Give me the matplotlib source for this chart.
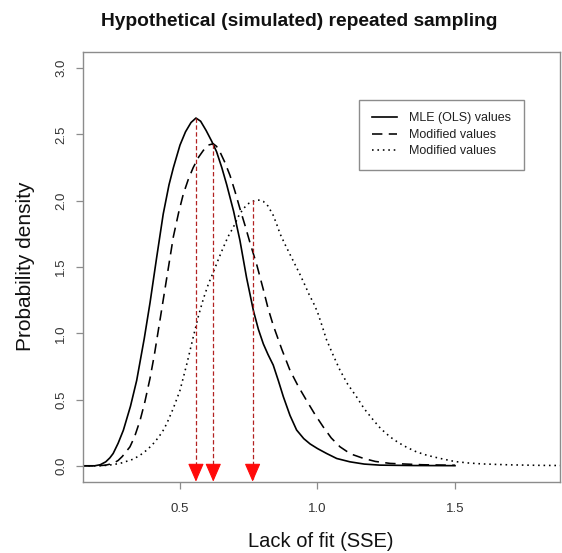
import matplotlib
matplotlib.use("Agg")
import matplotlib.pyplot as plt

plt.rcParams['font.family'] = ['Liberation Sans', 'DejaVu Sans']

# ---- data ----
mle_x = [0.147, 0.19, 0.21, 0.23, 0.245, 0.257, 0.275, 0.294, 0.32, 0.3425, 0.37, 0.391,
         0.415, 0.439, 0.46, 0.476, 0.50, 0.52, 0.54, 0.558, 0.575, 0.595, 0.615, 0.633,
         0.652, 0.670, 0.695, 0.718, 0.742, 0.767, 0.785, 0.803, 0.82, 0.839, 0.858, 0.876,
         0.90, 0.924, 0.95, 0.973, 1.0, 1.033, 1.07, 1.118, 1.17, 1.227, 1.35, 1.5]
mle_y = [0.0, 0.0, 0.008, 0.03, 0.06, 0.093, 0.17, 0.268, 0.45, 0.644, 0.96, 1.23,
         1.57, 1.90, 2.12, 2.25, 2.42, 2.52, 2.59, 2.624, 2.60, 2.53, 2.45, 2.37,
         2.25, 2.12, 1.92, 1.70, 1.42, 1.17, 1.03, 0.92, 0.84, 0.76, 0.64, 0.52,
         0.38, 0.27, 0.205, 0.165, 0.13, 0.093, 0.055, 0.03, 0.013, 0.005, 0.002, 0.001]

mod1_x = [0.147, 0.20, 0.23, 0.257, 0.275, 0.29, 0.318, 0.335, 0.355, 0.372, 0.391, 0.407,
          0.421, 0.435, 0.452, 0.476, 0.495, 0.512, 0.53, 0.548, 0.568, 0.585, 0.603, 0.621,
          0.633, 0.645, 0.663, 0.682, 0.70, 0.718, 0.737, 0.755, 0.78, 0.803, 0.82, 0.839,
          0.87, 0.9, 0.93, 0.961, 0.99, 1.021, 1.05, 1.082, 1.12, 1.167, 1.21, 1.264, 1.38, 1.5]
mod1_y = [0.0, 0.0, 0.005, 0.018, 0.04, 0.07, 0.143, 0.22, 0.344, 0.48, 0.66, 0.84,
          1.02, 1.20, 1.42, 1.73, 1.91, 2.05, 2.16, 2.25, 2.33, 2.38, 2.42, 2.43,
          2.41, 2.37, 2.29, 2.19, 2.07, 1.94, 1.81, 1.68, 1.51, 1.33, 1.19, 1.06,
          0.88, 0.72, 0.60, 0.49, 0.39, 0.293, 0.21, 0.143, 0.09, 0.056, 0.033, 0.018, 0.008, 0.004]

mod2_x = [0.147, 0.20, 0.24, 0.282, 0.33, 0.355, 0.379, 0.40, 0.42, 0.437, 0.452, 0.475,
          0.5, 0.525, 0.548, 0.567, 0.585, 0.603, 0.621, 0.64, 0.657, 0.675, 0.694, 0.712,
          0.73, 0.75, 0.773, 0.79, 0.803, 0.82, 0.839, 0.852, 0.864, 0.882, 0.9, 0.918,
          0.936, 0.955, 0.97, 0.985, 1.0, 1.016, 1.033, 1.058, 1.082, 1.11, 1.142, 1.17,
          1.203, 1.23, 1.264, 1.294, 1.324, 1.36, 1.397, 1.445, 1.5, 1.55, 1.6, 1.7, 1.82, 1.9]
mod2_y = [0.0, 0.0, 0.004, 0.018, 0.05, 0.08, 0.118, 0.16, 0.21, 0.26, 0.319, 0.43,
          0.569, 0.77, 0.97, 1.13, 1.26, 1.37, 1.46, 1.56, 1.645, 1.73, 1.80, 1.88,
          1.94, 1.98, 2.003, 2.005, 1.995, 1.96, 1.89, 1.82, 1.75, 1.67, 1.595, 1.52,
          1.445, 1.36, 1.29, 1.23, 1.16, 1.06, 0.95, 0.83, 0.72, 0.615, 0.52, 0.43,
          0.345, 0.28, 0.218, 0.175, 0.14, 0.105, 0.08, 0.056, 0.032, 0.021, 0.014, 0.007, 0.003, 0.002]

arrow_x = [0.558, 0.621, 0.764]
arrow_top = [2.624, 2.43, 2.003]

series_labels = ["MLE (OLS) values", "Modified values", "Modified values"]
x_ticks = [0.5, 1.0, 1.5]
y_ticks = [0.0, 0.5, 1.0, 1.5, 2.0, 2.5, 3.0]

# ---- figure ----
W, H = 562, 553
fig = plt.figure(figsize=(W / 100, H / 100), dpi=100)
L, R, T, B = 82.7, 560.0, 52.3, 481.7
ax = fig.add_axes([L / W, 1 - B / H, (R - L) / W, (B - T) / H])

ax.plot(mle_x, mle_y, color='black', lw=1.2, linestyle='-', label=series_labels[0])
ax.plot(mod1_x, mod1_y, color='black', lw=1.15, dashes=(6.5, 4), label=series_labels[1])
ax.plot(mod2_x, mod2_y, color='black', lw=1.15, dashes=(1, 2.4), label=series_labels[2])

ymin, ymax = -0.12, 3.12
for xa, ya in zip(arrow_x, arrow_top):
    ax.plot([xa, xa], [ya, ymin + 0.02], color='#b22222', lw=0.9, dashes=(3.5, 2))
    ax.annotate('', xy=(xa, ymin), xytext=(xa, 0.0),
                arrowprops=dict(arrowstyle='-|>,head_length=1.15,head_width=0.5',
                                color='#ff0a0a', lw=0.8, shrinkA=0, shrinkB=0))

ax.set_xlim(0.1462, 1.8818)
ax.set_ylim(ymin, ymax)
ax.set_xticks(x_ticks)
ax.set_xticklabels([f"{v:.1f}" for v in x_ticks])
ax.set_yticks(y_ticks)
ax.set_yticklabels([f"{v:.1f}" for v in y_ticks])

frame_col = '#8c8c8c'
for s in ax.spines.values():
    s.set_color(frame_col)
    s.set_linewidth(1.0)
ax.tick_params(axis='both', colors=frame_col, labelcolor='#333333', length=5, width=0.9,
               labelsize=9.5)
ax.tick_params(axis='x', pad=10)
ax.tick_params(axis='y', pad=6, labelrotation=90)
for lab in ax.get_yticklabels():
    lab.set_verticalalignment('center')
    lab.set_horizontalalignment('right')

ax.set_xlabel('Lack of fit (SSE)', fontsize=14.5, color='#111111', va='center')
ax.xaxis.set_label_coords((320.5 - L) / (R - L), (B - 541.7) / (B - T))
ax.set_ylabel('Probability density', fontsize=15, color='#111111', va='center')
ax.yaxis.set_label_coords((26 - L) / (R - L), (B - 266.7) / (B - T))

fig.text(299 / W, 1 - 21 / H, 'Hypothetical (simulated) repeated sampling',
         fontsize=13.8, fontweight='bold', ha='center', va='center', color='#111111')

leg = ax.legend(loc='upper left', bbox_to_anchor=(359.3 / W, 1 - 100 / H),
                bbox_transform=fig.transFigure, borderaxespad=0, fontsize=9,
                frameon=True, fancybox=False, edgecolor=frame_col, framealpha=1,
                handlelength=2.0, handletextpad=1.0, borderpad=1.0, labelspacing=0.35)
leg.get_frame().set_linewidth(1.0)
for t in leg.get_texts():
    t.set_color('#222222')

fig.savefig('out.png', dpi=100)
